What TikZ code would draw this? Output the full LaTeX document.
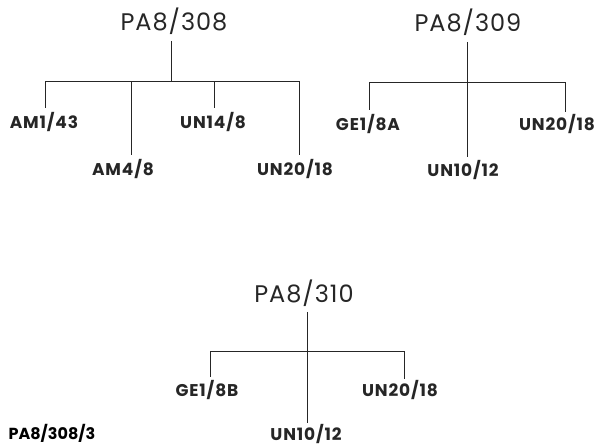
\documentclass[tikz,border=0pt]{standalone}
\usepackage{fontspec}
\setmainfont{Poppins}
\begin{document}
\begin{tikzpicture}[x=1pt,y=-1pt,
  big/.style={font=\fontsize{24}{24}\selectfont\addfontfeatures{LetterSpace=4}, inner sep=0pt, anchor=base, text=black!85},
  small/.style={font=\fontsize{17}{17}\selectfont\bfseries\addfontfeatures{LetterSpace=5}, inner sep=0pt, anchor=base, text=black!85},
  foot/.style={font=\fontsize{16}{16}\selectfont\bfseries, inner sep=0pt, anchor=base, text=black},
  line/.style={line width=1pt, draw=black!85}]
\useasboundingbox (0,0) rectangle (595,446);

% Tree PA8/308
\node[big] (p308) at (174,31) {PA8/308};
\node[small] (a143) at (44,129) {AM1/43};
\node[small] (a48) at (123,176) {AM4/8};
\node[small] (u148) at (213,129) {UN14/8};
\node[small] (u2018a) at (295,176) {UN20/18};
\coordinate (s1) at (171,41);
\coordinate (j1) at (171,82);
\coordinate (e11) at (45,108);
\coordinate (e12) at (131,155);
\coordinate (e13) at (214,108);
\coordinate (e14) at (299,155);
\draw[line] (s1) -- (j1);
\draw[line] (e11) -- (e11 |- j1) -- (e14 |- j1) -- (e14);
\draw[line] (e12) -- (e12 |- j1);
\draw[line] (e13) -- (e13 |- j1);

% Tree PA8/309
\node[big] (p309) at (468,32) {PA8/309};
\node[small] (g18a) at (368,131) {GE1/8A};
\node[small] (u1012a) at (463,177) {UN10/12};
\node[small] (u2018b) at (557,131) {UN20/18};
\coordinate (s2) at (467,42);
\coordinate (j2) at (467,83);
\coordinate (e21) at (369,110);
\coordinate (e22) at (467,157);
\coordinate (e23) at (565,112);
\draw[line] (s2) -- (e22);
\draw[line] (e21) -- (e21 |- j2) -- (e23 |- j2) -- (e23);

% Tree PA8/310
\node[big] (p310) at (304,303) {PA8/310};
\node[small] (g18b) at (207,397) {GE1/8B};
\node[small] (u1012b) at (306,441) {UN10/12};
\node[small] (u2018c) at (400,397) {UN20/18};
\coordinate (s3) at (307,312);
\coordinate (j3) at (307,352);
\coordinate (e31) at (210,377);
\coordinate (e32) at (307,423);
\coordinate (e33) at (404,379);
\draw[line] (s3) -- (e32);
\draw[line] (e31) -- (e31 |- j3) -- (e33 |- j3) -- (e33);

% Footer
\node[foot] (ref) at (52,440) {PA8/308/3};
\end{tikzpicture}
\end{document}
